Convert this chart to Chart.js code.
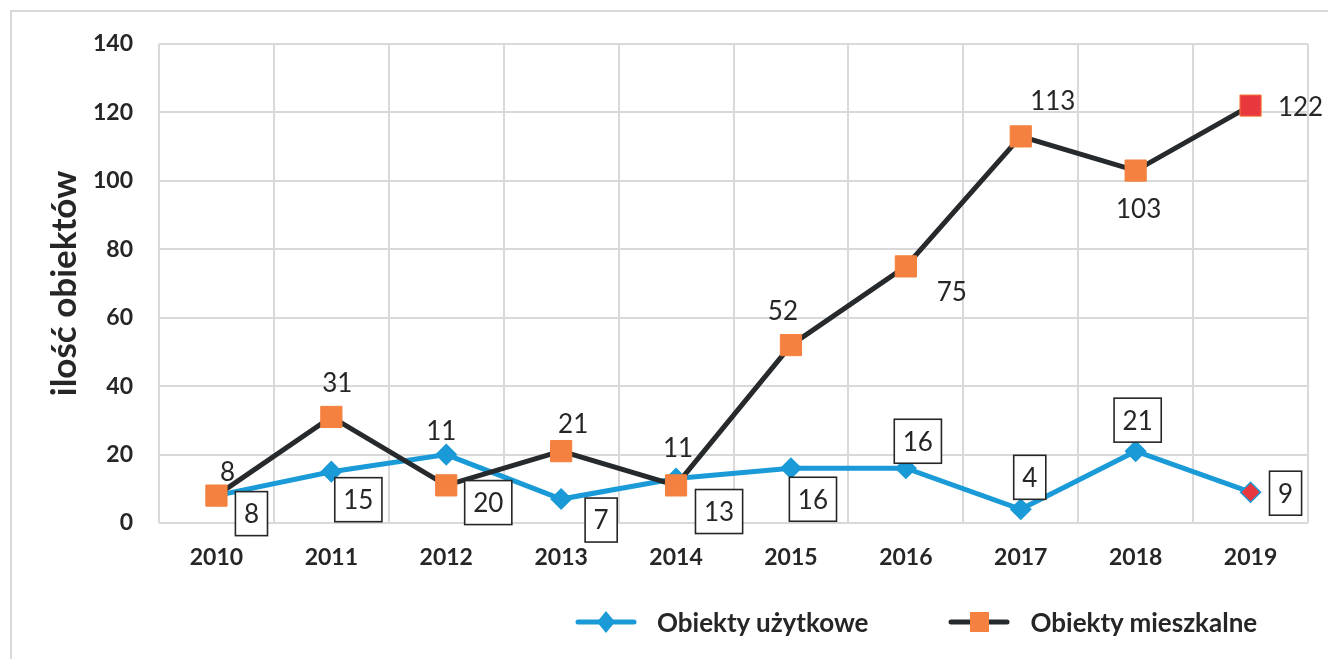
<!DOCTYPE html>
<html lang="pl">
<head>
<meta charset="utf-8">
<title>Ilość obiektów 2010-2019</title>
<script src="https://cdn.jsdelivr.net/npm/chart.js@4.4.1/dist/chart.umd.min.js"></script>
<style>
  html, body { margin: 0; padding: 0; background: #fff; }
  #wrap { position: relative; width: 1328px; height: 659px; overflow: hidden; font-family: Lato, sans-serif; }
  #chart { position: absolute; left: 0; top: 0; }
  #legend { position: absolute; left: 575px; top: 606px; display: flex; align-items: center; color: #262626; font-weight: bold; font-size: 26px; }
  .item { display: flex; align-items: center; }
  .item canvas { margin-right: 20px; }
  .item + .item { margin-left: 80px; }
</style>
</head>
<body>
<div id="wrap">
  <canvas id="chart" width="1328" height="659"></canvas>
  <div id="legend"></div>
</div>
<script>
// dane
const lata = ['2010', '2011', '2012', '2013', '2014', '2015', '2016', '2017', '2018', '2019'];
const uzytkowe = [8, 15, 20, 7, 13, 16, 16, 4, 21, 9];
const mieszkalne = [8, 31, 11, 21, 11, 52, 75, 113, 103, 122];
// etykiety przy punktach (tak jak na oryginale)
const etykietyUzytkowe = [8, 15, 20, 7, 13, 16, 16, 4, 21, 9];
const etykietyMieszkalne = [8, 31, 11, 21, 11, 52, 75, 113, 103, 122];
const yTicks = [0, 20, 40, 60, 80, 100, 120, 140];

const BLUE = '#1a9ad6';
const ORANGE = '#f4813f';
const DARK = '#262a2d';
const RED = '#e8383d';
const TEXT = '#262626';
const GRID = '#d9d9d9';

// przesunięcia etykiet względem punktu (px)
const offsetsUzytkowe = [[35, 18], [27, 28], [42, 48], [40, 21], [43, 33], [22, 31], [12, -27], [9, -32], [2, -31], [35, 1]];
const offsetsMieszkalne = [[11, -24], [6, -34], [-5, -55], [12, -28], [2, -38], [-8, -34], [46, 25], [32, -36], [3, 38], [50, 1]];

const lastRed = (base, n) => Array.from({ length: n }, (_, i) => i === n - 1 ? RED : base);

const pointLabels = {
  id: 'pointLabels',
  afterDatasetsDraw(chart, args, opts) {
    const ctx = chart.ctx;
    ctx.save();
    ctx.font = '26px Lato';
    ctx.textAlign = 'center';
    ctx.textBaseline = 'middle';
    opts.sets.forEach(set => {
      const meta = chart.getDatasetMeta(set.dataset);
      meta.data.forEach((pt, i) => {
        const x = pt.x + set.offsets[i][0];
        const y = pt.y + set.offsets[i][1];
        const txt = String(set.labels[i]);
        if (set.boxed) {
          const w = ctx.measureText(txt).width + 17;
          const h = 44;
          ctx.fillStyle = '#fff';
          ctx.fillRect(x - w / 2, y - h / 2, w, h);
          ctx.lineWidth = 1.6;
          ctx.strokeStyle = '#262626';
          ctx.strokeRect(x - w / 2, y - h / 2, w, h);
        }
        ctx.fillStyle = TEXT;
        ctx.fillText(txt, x, y + 1);
      });
    });
    ctx.restore();
  }
};

// białe tło i ramka (tylko góra i lewa krawędź widoczna)
const frameLines = {
  id: 'frameLines',
  beforeDraw(chart) {
    const ctx = chart.ctx;
    ctx.save();
    ctx.fillStyle = '#fff';
    ctx.fillRect(0, 0, chart.width, chart.height);
    ctx.strokeStyle = GRID;
    ctx.lineWidth = 2;
    ctx.beginPath();
    ctx.moveTo(11, chart.height);
    ctx.lineTo(11, 11);
    ctx.lineTo(chart.width, 11);
    ctx.stroke();
    ctx.restore();
  }
};

function swatch(color, marker) {
  const c = document.createElement('canvas');
  c.width = 62; c.height = 24;
  const ctx = c.getContext('2d');
  ctx.strokeStyle = color;
  ctx.lineWidth = 5;
  ctx.lineCap = 'round';
  ctx.beginPath();
  ctx.moveTo(3, 12); ctx.lineTo(59, 12);
  ctx.stroke();
  if (marker === 'diamond') {
    ctx.fillStyle = BLUE;
    ctx.beginPath();
    ctx.moveTo(31, 1); ctx.lineTo(40, 12); ctx.lineTo(31, 23); ctx.lineTo(22, 12);
    ctx.closePath();
    ctx.fill();
  } else {
    ctx.fillStyle = ORANGE;
    ctx.fillRect(22, 2, 19, 20);
  }
  return c;
}

function buildLegend() {
  const legend = document.getElementById('legend');
  [['Obiekty użytkowe', BLUE, 'diamond'], ['Obiekty mieszkalne', DARK, 'square']].forEach(([name, col, m]) => {
    const item = document.createElement('div');
    item.className = 'item';
    const label = document.createElement('span');
    label.textContent = name;
    item.append(swatch(col, m), label);
    legend.appendChild(item);
  });
}

function drawChart() {
  const ctx = document.getElementById('chart').getContext('2d');
  Chart.defaults.font.family = 'Lato';
  Chart.defaults.color = TEXT;

  new Chart(ctx, {
    type: 'line',
    data: {
      labels: lata,
      datasets: [{
        label: 'Obiekty użytkowe',
        data: uzytkowe,
        order: 1,
        borderColor: BLUE,
        borderWidth: 5,
        pointStyle: 'rectRot',
        pointRadius: 10,
        pointBorderWidth: 1.5,
        pointBorderColor: BLUE,
        pointBackgroundColor: lastRed(BLUE, uzytkowe.length),
        tension: 0
      }, {
        label: 'Obiekty mieszkalne',
        data: mieszkalne,
        order: 0,
        borderColor: DARK,
        borderWidth: 5,
        pointStyle: 'rect',
        pointRadius: 15,
        pointBorderWidth: 1,
        pointBorderColor: ORANGE,
        pointBackgroundColor: lastRed(ORANGE, mieszkalne.length),
        tension: 0
      }]
    },
    options: {
      responsive: false,
      animation: false,
      layout: { padding: { left: 0, right: 20, top: 44, bottom: 0 } },
      plugins: {
        legend: { display: false },
        tooltip: { enabled: false },
        pointLabels: {
          sets: [
            { dataset: 0, labels: etykietyUzytkowe, offsets: offsetsUzytkowe, boxed: true },
            { dataset: 1, labels: etykietyMieszkalne, offsets: offsetsMieszkalne, boxed: false }
          ]
        }
      },
      scales: {
        x: {
          offset: true,
          grid: { offset: true, color: GRID, lineWidth: 2, drawTicks: false },
          border: { display: false },
          ticks: { padding: 21, font: { size: 23, weight: 'bold' }, color: TEXT },
          afterFit: s => { s.height = 136; }
        },
        y: {
          min: 0,
          max: 140,
          grid: { color: GRID, lineWidth: 2, drawTicks: false },
          border: { display: false },
          afterBuildTicks: s => { s.ticks = yTicks.map(v => ({ value: v })); },
          ticks: { padding: 26, font: { size: 23, weight: 'bold' }, color: TEXT },
          title: {
            display: true,
            text: 'ilość obiektów',
            font: { size: 35, weight: 'bold' },
            color: TEXT,
            padding: { top: 44, bottom: 0 }
          },
          afterFit: s => { s.width = 159; }
        }
      }
    },
    plugins: [frameLines, pointLabels]
  });
}

buildLegend();
Promise.all([
  document.fonts.load('bold 23px Lato'),
  document.fonts.load('26px Lato')
]).catch(() => {}).then(drawChart);
</script>
</body>
</html>
